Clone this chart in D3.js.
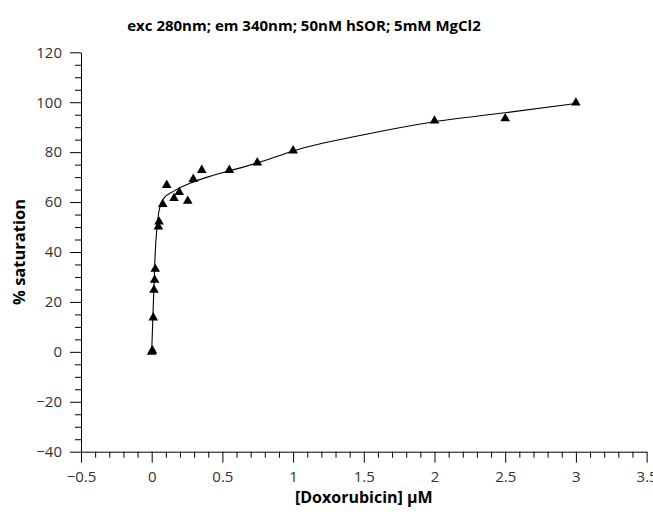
<!DOCTYPE html>
<html>
<head>
<meta charset="utf-8">
<script src="https://cdn.jsdelivr.net/npm/d3@7"></script>
<style>
  body { margin: 0; background: #fff; }
  text { font-family: "Open Sans", "Noto Sans", sans-serif; }
</style>
</head>
<body>
<div id="chart"></div>
<script>
// measured points: [Doxorubicin] (uM) and % saturation
let doxConc = [0, 0.005, 0.011, 0.016, 0.021, 0.025, 0.047, 0.052, 0.078, 0.106, 0.158, 0.195, 0.255, 0.294, 0.354, 0.549, 0.747, 1.0, 2.0, 2.5, 3.0]
let saturation = [0, 0.5, 13.7, 24.8, 28.8, 33.2, 50.1, 52.1, 59.1, 66.8, 61.5, 63.9, 60.4, 69.2, 72.8, 72.8, 75.8, 80.6, 92.6, 93.5, 99.8]

// fitted curve
let fitConc = [0, 0.012, 0.022, 0.033, 0.045, 0.06, 0.09, 0.15, 0.27, 0.41, 0.55, 0.75, 1.0, 1.5, 2.0, 2.5, 3.0]
let fitSat = [0, 20, 36, 47, 54, 58.5, 61.8, 64.2, 67.5, 70.3, 72.5, 75.7, 80.5, 87.0, 92.2, 95.8, 99.5]

let xTicks = [-0.5, 0, 0.5, 1, 1.5, 2, 2.5, 3, 3.5]
let yTicks = [-40, -20, 0, 20, 40, 60, 80, 100, 120]

let chartTitle = "exc 280nm; em 340nm; 50nM hSOR; 5mM MgCl2"
let xTitle = "[Doxorubicin] µM"
let yTitle = "% saturation"

let width = 653, height = 512
let plot = {left: 81, right: 646.6, top: 52.3, bottom: 451.7}

let svg = d3.select("#chart").append("svg")
    .attr("width", width)
    .attr("height", height)

let x = d3.scaleLinear().domain([-0.5, 3.5]).range([plot.left, plot.right])
let y = d3.scaleLinear().domain([-40, 120]).range([plot.bottom, plot.top])

let fmt = d3.format("~g")

// minor ticks first, then major on top
let xMinor = d3.range(-5, 36).map(d => d / 10).filter(d => !xTicks.includes(d))
let yMinor = d3.range(-40, 121, 5).filter(d => !yTicks.includes(d))

svg.append("g")
    .attr("transform", "translate(0," + plot.bottom + ")")
    .call(d3.axisBottom(x).tickValues(xMinor).tickSize(6).tickFormat(""))
    .call(g => g.select(".domain").remove())

svg.append("g")
    .attr("transform", "translate(" + plot.left + ",0)")
    .call(d3.axisLeft(y).tickValues(yMinor).tickSize(6).tickFormat(""))
    .call(g => g.select(".domain").remove())

let xAxis = svg.append("g")
    .attr("transform", "translate(0," + plot.bottom + ")")
    .call(d3.axisBottom(x).tickValues(xTicks).tickSize(11).tickSizeOuter(0).tickPadding(9).tickFormat(fmt))

let yAxis = svg.append("g")
    .attr("transform", "translate(" + plot.left + ",0)")
    .call(d3.axisLeft(y).tickValues(yTicks).tickSize(11).tickSizeOuter(0).tickPadding(8).tickFormat(fmt))

svg.selectAll(".tick line").attr("stroke", "#000")
svg.selectAll(".domain").attr("stroke", "#000")
svg.selectAll(".tick text")
    .attr("font-size", 15)
    .attr("fill", "#333")
    .style("font-family", "'Open Sans', sans-serif")

// fit line
let fitData = fitConc.map((c, i) => ({c: c, s: fitSat[i]}))
let line = d3.line()
    .x(d => x(d.c))
    .y(d => y(d.s))
    .curve(d3.curveMonotoneX)

svg.append("path")
    .datum(fitData)
    .attr("fill", "none")
    .attr("stroke", "#000")
    .attr("stroke-width", 1.1)
    .attr("d", line)

// triangle markers
let pts = doxConc.map((c, i) => ({c: c, s: saturation[i]}))
svg.selectAll("path.pt").data(pts)
    .enter()
    .append("path")
    .attr("class", "pt")
    .attr("d", d3.symbol().type(d3.symbolTriangle).size(40))
    .attr("transform", d => "translate(" + x(d.c) + "," + y(d.s) + ")")
    .attr("fill", "#000")

// titles
svg.append("text")
    .attr("x", 304)
    .attr("y", 31)
    .attr("text-anchor", "middle")
    .attr("font-size", 15)
    .attr("font-weight", "bold")
    .text(chartTitle)

svg.append("text")
    .attr("x", (plot.left + plot.right) / 2)
    .attr("y", 503)
    .attr("text-anchor", "middle")
    .attr("font-size", 16)
    .attr("font-weight", "bold")
    .text(xTitle)

svg.append("text")
    .attr("transform", "translate(25," + (plot.top + plot.bottom) / 2 + ") rotate(-90)")
    .attr("text-anchor", "middle")
    .attr("font-size", 16.5)
    .attr("font-weight", "bold")
    .text(yTitle)
</script>
</body>
</html>
